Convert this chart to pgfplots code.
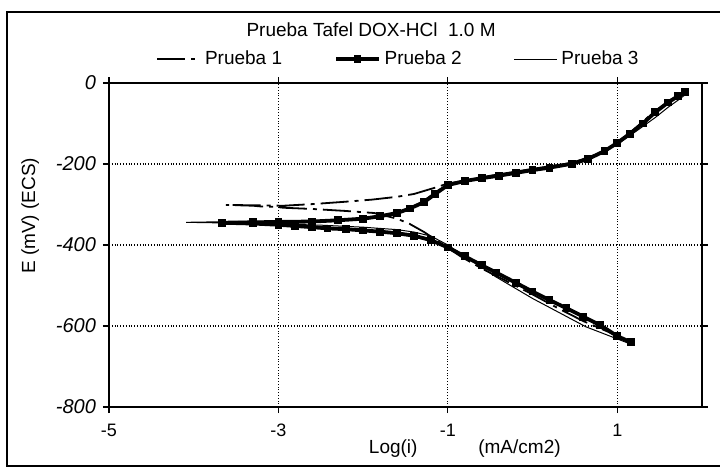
\documentclass[border=0pt]{standalone}
\usepackage{fontspec}
\setmainfont{Liberation Sans}
\usepackage{pgfplots}
\pgfplotsset{compat=1.18}

\begin{document}
\begin{tikzpicture}
\begin{axis}[
    scale only axis,
    width=296.5pt, height=162pt,
    xmin=-5, xmax=2, ymin=-800, ymax=0,
    xtick={-5,-3,-1,1},
    ytick={-800,-600,-400,-200,0},
    grid=major,
    grid style={black, densely dotted, line width=0.6pt},
    axis line style={line width=0.9pt},
    tick align=outside, major tick length=3pt,
    tick style={black, line width=0.6pt},
    /pgf/number format/assume math mode=true,
    /pgf/number format/1000 sep={},
    xticklabel style={font=\fontsize{9}{10}\selectfont, yshift=-2pt},
    yticklabel style={font=\fontsize{10}{11}\selectfont\itshape},
    xlabel={Log(i)\hspace{3.2em}(mA/cm2)},
    xlabel style={at={(axis description cs:0.6,-0.08)}, anchor=north, font=\fontsize{9.5}{11}\selectfont},
    ylabel={E (mV) (ECS)},
    ylabel style={at={(axis description cs:-0.133,0.59)}, anchor=center, font=\fontsize{9.5}{11}\selectfont},
    legend style={at={(axis description cs:0.49,1.074)}, anchor=center, draw=none,
        font=\fontsize{9.5}{11}\selectfont, /tikz/every even column/.append style={column sep=24pt}},
    legend image code/.code={\draw[mark repeat=2, mark phase=2, #1]
        plot coordinates {(0cm,0cm) (0.375cm,0cm) (0.75cm,0cm)};},
    legend columns=3,
    legend cell align=left,
    clip=false,
]

% Prueba 1
\addplot[black, line width=0.9pt, dash pattern=on 14pt off 3pt on 2pt off 3pt] coordinates {
    (1.12,-636) (0.9,-615) (0.6,-588) (0.3,-556) (0.0,-522) (-0.3,-490)
    (-0.6,-458) (-0.85,-428) (-1.05,-400) (-1.28,-368) (-1.45,-348) (-1.6,-335)
    (-1.87,-321) (-2.2,-316) (-2.6,-311) (-2.94,-308) (-3.02,-306) (-3.2,-305)
    (-3.3,-303) (-3.62,-301)
    (-2.94,-303) (-2.6,-299) (-2.2,-293) (-1.9,-288) (-1.6,-281) (-1.4,-274)
    (-1.16,-259) (-1.0,-248) (-0.7,-238) (-0.43,-230) (0.0,-215) (0.47,-198)
    (0.75,-178) (1.0,-150) (1.21,-112) (1.44,-70) (1.64,-40) (1.80,-22)
};
\addlegendentry{Prueba 1}

% Prueba 2
\addplot[black, line width=1.9pt, mark=square*, mark size=1pt] coordinates {
    (1.16,-640) (1.0,-625) (0.8,-598) (0.6,-577) (0.4,-556) (0.2,-536)
    (0.0,-515) (-0.2,-493) (-0.43,-468) (-0.6,-450) (-0.8,-428) (-1.0,-406)
    (-1.2,-388) (-1.4,-377) (-1.6,-371) (-1.8,-367) (-2.0,-364) (-2.2,-361)
    (-2.42,-359) (-2.6,-356) (-2.8,-353) (-3.0,-350) (-3.3,-347) (-3.67,-345)
    (-3.3,-344) (-3.0,-343) (-2.6,-342) (-2.3,-339) (-2.0,-335) (-1.8,-329)
    (-1.6,-321) (-1.45,-310) (-1.28,-294) (-1.15,-274) (-1.0,-252) (-0.8,-242)
    (-0.6,-235) (-0.4,-229) (-0.2,-222) (0.0,-215) (0.2,-209) (0.47,-199)
    (0.65,-188) (0.85,-168) (1.0,-148) (1.15,-125) (1.3,-100) (1.45,-72)
    (1.6,-48) (1.72,-32) (1.8,-22)
};
\addlegendentry{Prueba 2}

% Prueba 3
\addplot[black, line width=0.5pt] coordinates {
    (1.2,-648) (0.63,-602) (0.0,-532) (-0.43,-479) (-0.8,-428) (-1.0,-400)
    (-1.2,-378) (-1.4,-368) (-1.6,-362) (-2.0,-356) (-2.5,-351) (-3.0,-348)
    (-3.5,-346) (-4.09,-344)
    (-3.5,-342) (-3.0,-341) (-2.5,-339) (-2.0,-334) (-1.7,-326) (-1.5,-314)
    (-1.3,-292) (-1.1,-262) (-0.9,-245) (-0.5,-228) (0.0,-211) (0.47,-196)
    (0.8,-172) (1.0,-152) (1.25,-115) (1.45,-85) (1.6,-60) (1.72,-42) (1.82,-26)
};
\addlegendentry{Prueba 3}

% title, outer chart frame and picture extent
\node[font=\fontsize{9.5}{11}\selectfont] at (rel axis cs:0.442,1.164) {Prueba Tafel DOX-HCl\ \ 1.0 M};
\draw[line width=0.8pt] (rel axis cs:-0.172,-0.182) rectangle (rel axis cs:1.05,1.219);
\coordinate (bbl) at (rel axis cs:-0.1838,-0.1944);
\coordinate (btr) at (rel axis cs:1.0304,1.2562);
\end{axis}
\pgfresetboundingbox
\useasboundingbox (bbl) rectangle (btr);
\end{tikzpicture}
\end{document}
